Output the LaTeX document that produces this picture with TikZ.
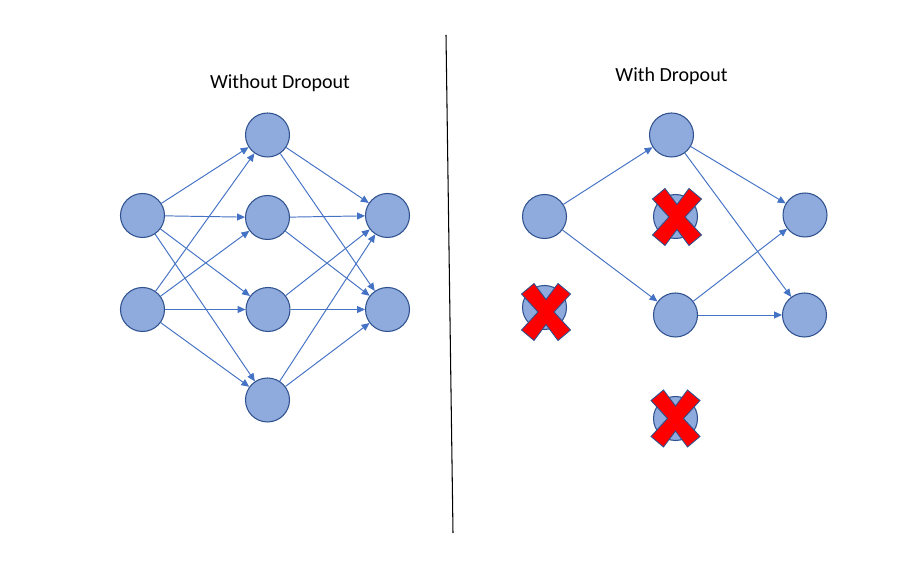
\documentclass[tikz,border=0pt]{standalone}
\usepackage{fontspec}
\setmainfont{Carlito}
\usepackage{xcolor}
\usepackage{tikz}
\usetikzlibrary{arrows.meta}

\definecolor{neuronfill}{RGB}{143,170,220}
\definecolor{neuronline}{RGB}{47,82,143}
\definecolor{linkblue}{RGB}{68,114,196}

\tikzset{
    neuron/.style={circle, draw=neuronline, fill=neuronfill, line width=0.6pt, minimum size=0.88cm, inner sep=0pt},
    link/.style={-{Triangle[length=4.5pt,width=4pt]}, draw=linkblue, line width=0.55pt},
    title/.style={font=\fontsize{11.4}{13}\selectfont, anchor=base},
    dropcross/.pic={
        \filldraw[fill=red, draw=neuronline, line width=0.5pt]
            (-0.49,0.36) -- (-0.24,0.57) -- (0,0.25) -- (0.24,0.57) -- (0.49,0.36) -- (0.16,0)
            -- (0.49,-0.36) -- (0.24,-0.57) -- (0,-0.25) -- (-0.24,-0.57) -- (-0.49,-0.36) -- (-0.16,0) -- cycle;
    }
}

\begin{document}
\begin{tikzpicture}
        \useasboundingbox (0,0) rectangle (18.38,11.46);

        % Divider
        \draw[black, line width=0.6pt] (8.92,10.76) -- (9.06,0.8);

        % Titles
        \node[title] (lefttitle) at (5.6,9.68) {Without Dropout};
        \node[title] (righttitle) at (13.43,9.82) {With Dropout};

        % Left network
        \node[neuron] (in1) at (2.85,7.15) {};
        \node[neuron] (in2) at (2.85,5.27) {};
        \node[neuron] (h1) at (5.35,8.76) {};
        \node[neuron] (h2) at (5.35,7.11) {};
        \node[neuron] (h3) at (5.36,5.27) {};
        \node[neuron] (h4) at (5.35,3.46) {};
        \node[neuron] (out1) at (7.75,7.15) {};
        \node[neuron] (out2) at (7.75,5.27) {};

        \draw[link] (in1) -- (h1);
        \draw[link] (in1) -- (h2);
        \draw[link] (in1) -- (h3);
        \draw[link] (in1) -- (h4);
        \draw[link] (in2) -- (h1);
        \draw[link] (in2) -- (h2);
        \draw[link] (in2) -- (h3);
        \draw[link] (in2) -- (h4);

        \draw[link] (h1) -- (out1);
        \draw[link] (h1) -- (out2);
        \draw[link] (h2) -- (out1);
        \draw[link] (h2) -- (out2);
        \draw[link] (h3) -- (out1);
        \draw[link] (h3) -- (out2);
        \draw[link] (h4) -- (out1);
        \draw[link] (h4) -- (out2);

        % Right network
        \node[neuron] (din1) at (10.89,7.13) {};
        \node[neuron] (din2) at (10.89,5.31) {};
        \node[neuron] (dh1) at (13.43,8.76) {};
        \node[neuron] (dh2) at (13.51,7.13) {};
        \node[neuron] (dh3) at (13.51,5.16) {};
        \node[neuron] (dh4) at (13.51,3.09) {};
        \node[neuron] (dout1) at (16.1,7.16) {};
        \node[neuron] (dout2) at (16.09,5.16) {};

        \draw[link] (din1) -- (dh1);
        \draw[link] (din1) -- (dh3);
        \draw[link] (dh1) -- (dout1);
        \draw[link] (dh1) -- (dout2);
        \draw[link] (dh3) -- (dout1);
        \draw[link] (dh3) -- (dout2);

        % Dropped units
        \pic (xin2) at (10.92,5.22) {dropcross};
        \pic (xh2) at (13.54,7.12) {dropcross};
        \pic (xh4) at (13.51,3.09) {dropcross};
    \end{tikzpicture}
\end{document}
